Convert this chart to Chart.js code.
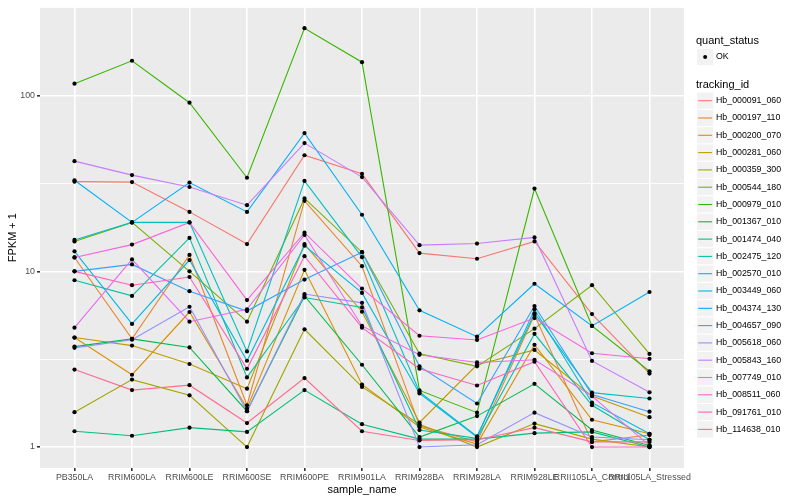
<!DOCTYPE html>
<html>
<head>
<meta charset="utf-8">
<script src="https://cdn.jsdelivr.net/npm/chart.js@4.4.1/dist/chart.umd.min.js"></script>
<style>
  html, body { margin: 0; padding: 0; background: #fff; }
  #wrap { width: 800px; height: 500px; }
</style>
</head>
<body>
<div id="wrap"><canvas id="fpkmChart" width="800" height="500"></canvas></div>
<script>
// sample names on the x axis
const categories = ['PB350LA', 'RRIM600LA', 'RRIM600LE', 'RRIM600SE', 'RRIM600PE', 'RRIM901LA',
    'RRIM928BA', 'RRIM928LA', 'RRIM928LE', 'RRII105LA_Control', 'RRII105LA_Stressed'];

// FPKM + 1, one list per gene
const hb_000091_060 = [32.4, 32.2, 21.8, 14.3, 45.8, 35.9, 12.7, 11.8, 14.8, 5.71, 2.62];
const hb_000197_110 = [12.0, 4.13, 12.4, 1.73, 25.2, 10.7, 1.32, 1.07, 5.64, 1.07, 1.17];
const hb_000200_070 = [4.2, 2.58, 5.87, 1.66, 10.2, 2.27, 1.30, 1.04, 3.82, 1.43, 1.19];
const hb_000281_060 = [4.2, 3.78, 2.97, 2.15, 14.3, 5.89, 1.38, 2.94, 3.57, 1.95, 1.48];
const hb_000359_300 = [1.58, 2.42, 1.97, 1.0, 4.68, 2.20, 1.35, 1.0, 1.36, 1.11, 1.0];
const hb_000544_180 = [14.8, 19.0, 10.0, 5.17, 26.0, 12.85, 3.4, 2.88, 4.72, 8.34, 3.39];
const hb_000979_010 = [117, 158, 91.2, 34.1, 242, 155, 2.1, 1.57, 29.6, 4.89, 2.70];
const hb_001367_010 = [3.73, 4.13, 3.69, 1.60, 7.25, 2.94, 1.14, 1.50, 2.29, 1.25, 1.02];
const hb_001474_040 = [1.23, 1.16, 1.29, 1.22, 2.11, 1.35, 1.11, 1.11, 1.20, 1.22, 1.0];
const hb_002475_120 = [8.9, 7.25, 15.5, 2.49, 7.1, 6.23, 1.25, 1.12, 4.41, 1.73, 1.10];
const hb_002570_010 = [15.1, 19.0, 19.0, 3.5, 32.7, 12.05, 2.06, 1.15, 5.77, 2.04, 1.89];
const hb_003449_060 = [13.0, 5.02, 11.6, 3.10, 14.0, 7.54, 2.02, 1.14, 6.08, 1.79, 1.19];
const hb_004374_130 = [33.0, 19.0, 32.0, 21.8, 61.2, 21.0, 6.0, 4.25, 8.5, 4.89, 7.63];
const hb_004657_090 = [10.0, 10.95, 7.71, 5.94, 8.98, 12.85, 2.88, 1.77, 6.35, 1.99, 1.59];
const hb_005618_060 = [3.67, 4.08, 6.29, 1.60, 7.43, 6.62, 1.0, 1.03, 1.57, 1.14, 1.10];
const hb_005843_160 = [42.4, 35.3, 30.2, 23.8, 53.7, 34.4, 14.1, 14.4, 15.6, 3.09, 2.05];
const hb_007749_010 = [4.78, 11.7, 5.17, 6.08, 16.1, 4.89, 3.35, 3.03, 3.14, 1.95, 1.02];
const hb_008511_060 = [12.0, 14.2, 19.0, 6.86, 16.6, 7.98, 4.3, 4.07, 5.42, 3.42, 3.18];
const hb_091761_010 = [10.0, 8.34, 9.29, 2.79, 12.2, 4.78, 2.79, 2.24, 3.06, 1.0, 1.0];
const hb_114638_010 = [2.76, 2.11, 2.25, 1.37, 2.47, 1.23, 1.09, 1.10, 1.29, 1.07, 1.07];

const trackingIds = ['Hb_000091_060', 'Hb_000197_110', 'Hb_000200_070', 'Hb_000281_060', 'Hb_000359_300',
    'Hb_000544_180', 'Hb_000979_010', 'Hb_001367_010', 'Hb_001474_040', 'Hb_002475_120',
    'Hb_002570_010', 'Hb_003449_060', 'Hb_004374_130', 'Hb_004657_090', 'Hb_005618_060',
    'Hb_005843_160', 'Hb_007749_010', 'Hb_008511_060', 'Hb_091761_010', 'Hb_114638_010'];
const seriesValues = [hb_000091_060, hb_000197_110, hb_000200_070, hb_000281_060, hb_000359_300,
    hb_000544_180, hb_000979_010, hb_001367_010, hb_001474_040, hb_002475_120,
    hb_002570_010, hb_003449_060, hb_004374_130, hb_004657_090, hb_005618_060,
    hb_005843_160, hb_007749_010, hb_008511_060, hb_091761_010, hb_114638_010];

// y ticks: labelled decades plus the half-decade minor lines
const yTickLabels = ['1', '10', '100'];
const yTicks = [1, 3.1623, 10, 31.623, 100, 316.23];

// ggplot default hue palette for 20 groups
const colors = ['#F8766D', '#EA8331', '#D89000', '#C09B00', '#A3A500', '#7CAE00', '#39B600', '#00BB4E',
    '#00BF7D', '#00C1A3', '#00BFC4', '#00BAE0', '#00B0F6', '#35A2FF', '#9590FF', '#C77CFF',
    '#E76BF3', '#FA62DB', '#FF62BC', '#FF6C91'];

const FONT = '"Liberation Sans", Arial, Helvetica, sans-serif';

const lineSets = seriesValues.map((vals, i) => ({
    type: 'line',
    label: trackingIds[i],
    data: vals.map((v, j) => ({ x: j, y: v })),
    borderColor: colors[i],
    borderWidth: 1.1,
    pointRadius: 0,
    tension: 0,
    order: seriesValues.length - i + 1
}));

const pointSet = {
    type: 'scatter',
    label: 'OK',
    data: seriesValues.flatMap(vals => vals.map((v, j) => ({ x: j, y: v }))),
    backgroundColor: '#000',
    borderWidth: 0,
    pointRadius: 2.1,
    order: 0
};

const panelBg = {
    id: 'panelBg',
    beforeDraw(chart) {
        const a = chart.chartArea;
        const ctx = chart.ctx;
        ctx.save();
        ctx.fillStyle = '#EBEBEB';
        ctx.fillRect(a.left, a.top, a.right - a.left, a.bottom - a.top);
        ctx.restore();
    }
};

const ggLegend = {
    id: 'ggLegend',
    afterDraw(chart) {
        const ctx = chart.ctx;
        const kx = 696.5, ks = 17.3;
        ctx.save();
        ctx.textBaseline = 'middle';
        ctx.textAlign = 'left';
        ctx.fillStyle = '#000';
        ctx.font = '11px ' + FONT;
        ctx.fillText('quant_status', 696, 41);
        ctx.fillText('tracking_id', 696, 85);

        function keyBox(cy) {
            ctx.fillStyle = '#F2F2F2';
            ctx.fillRect(kx, cy - ks / 2, ks, ks);
            ctx.strokeStyle = '#fff';
            ctx.lineWidth = 1;
            ctx.strokeRect(kx, cy - ks / 2, ks, ks);
        }

        keyBox(57);
        ctx.fillStyle = '#000';
        ctx.beginPath();
        ctx.arc(kx + ks / 2, 57, 2, 0, Math.PI * 2);
        ctx.fill();
        ctx.font = '8.8px ' + FONT;
        ctx.fillText('OK', 716, 57);

        trackingIds.forEach((id, i) => {
            const cy = 100.7 + i * ks;
            keyBox(cy);
            ctx.strokeStyle = colors[i];
            ctx.lineWidth = 1.1;
            ctx.beginPath();
            ctx.moveTo(kx + 1.7, cy);
            ctx.lineTo(kx + ks - 1.7, cy);
            ctx.stroke();
            ctx.fillStyle = '#000';
            ctx.font = '8.8px ' + FONT;
            ctx.fillText(id, 716, cy);
        });
        ctx.restore();
    }
};

new Chart(document.getElementById('fpkmChart'), {
    data: { datasets: [pointSet, ...lineSets] },
    options: {
        responsive: false,
        animation: false,
        layout: { padding: { left: 0, right: 116, top: 5, bottom: 0 } },
        plugins: {
            legend: { display: false },
            tooltip: { enabled: false }
        },
        scales: {
            x: {
                type: 'linear',
                min: -0.6,
                max: categories.length - 1 + 0.6,
                afterBuildTicks: s => { s.ticks = categories.map((c, i) => ({ value: i })); },
                afterFit: s => { s.height = 32; },
                border: { display: false },
                grid: { color: '#fff', lineWidth: 1.6, tickLength: 3, tickColor: '#333' },
                ticks: {
                    autoSkip: false, maxRotation: 0, minRotation: 0, padding: 1,
                    color: '#4D4D4D', font: { family: FONT, size: 8.8 },
                    callback: v => categories[v]
                },
                title: {
                    display: true, text: 'sample_name', color: '#000',
                    font: { family: FONT, size: 11 }, padding: { top: 0, bottom: 3 }
                }
            },
            y: {
                type: 'logarithmic',
                min: 0.76,
                max: 318.4,
                afterBuildTicks: s => { s.ticks = yTicks.map(v => ({ value: v })); },
                afterFit: s => { s.width = 40; },
                border: { display: false },
                grid: {
                    color: '#fff',
                    lineWidth: c => (c.index % 2 === 0 ? 1.6 : 0.9),
                    tickLength: 3,
                    tickColor: c => (c.index % 2 === 0 ? '#333' : 'rgba(0,0,0,0)')
                },
                ticks: {
                    autoSkip: false, padding: 2,
                    color: '#4D4D4D', font: { family: FONT, size: 8.8 },
                    callback: (v, i) => (i % 2 === 0 ? yTickLabels[i / 2] : '')
                },
                title: {
                    display: true, text: 'FPKM + 1', color: '#000',
                    font: { family: FONT, size: 11 }, padding: { top: 6, bottom: 0 }
                }
            }
        }
    },
    plugins: [panelBg, ggLegend]
});
</script>
</body>
</html>
